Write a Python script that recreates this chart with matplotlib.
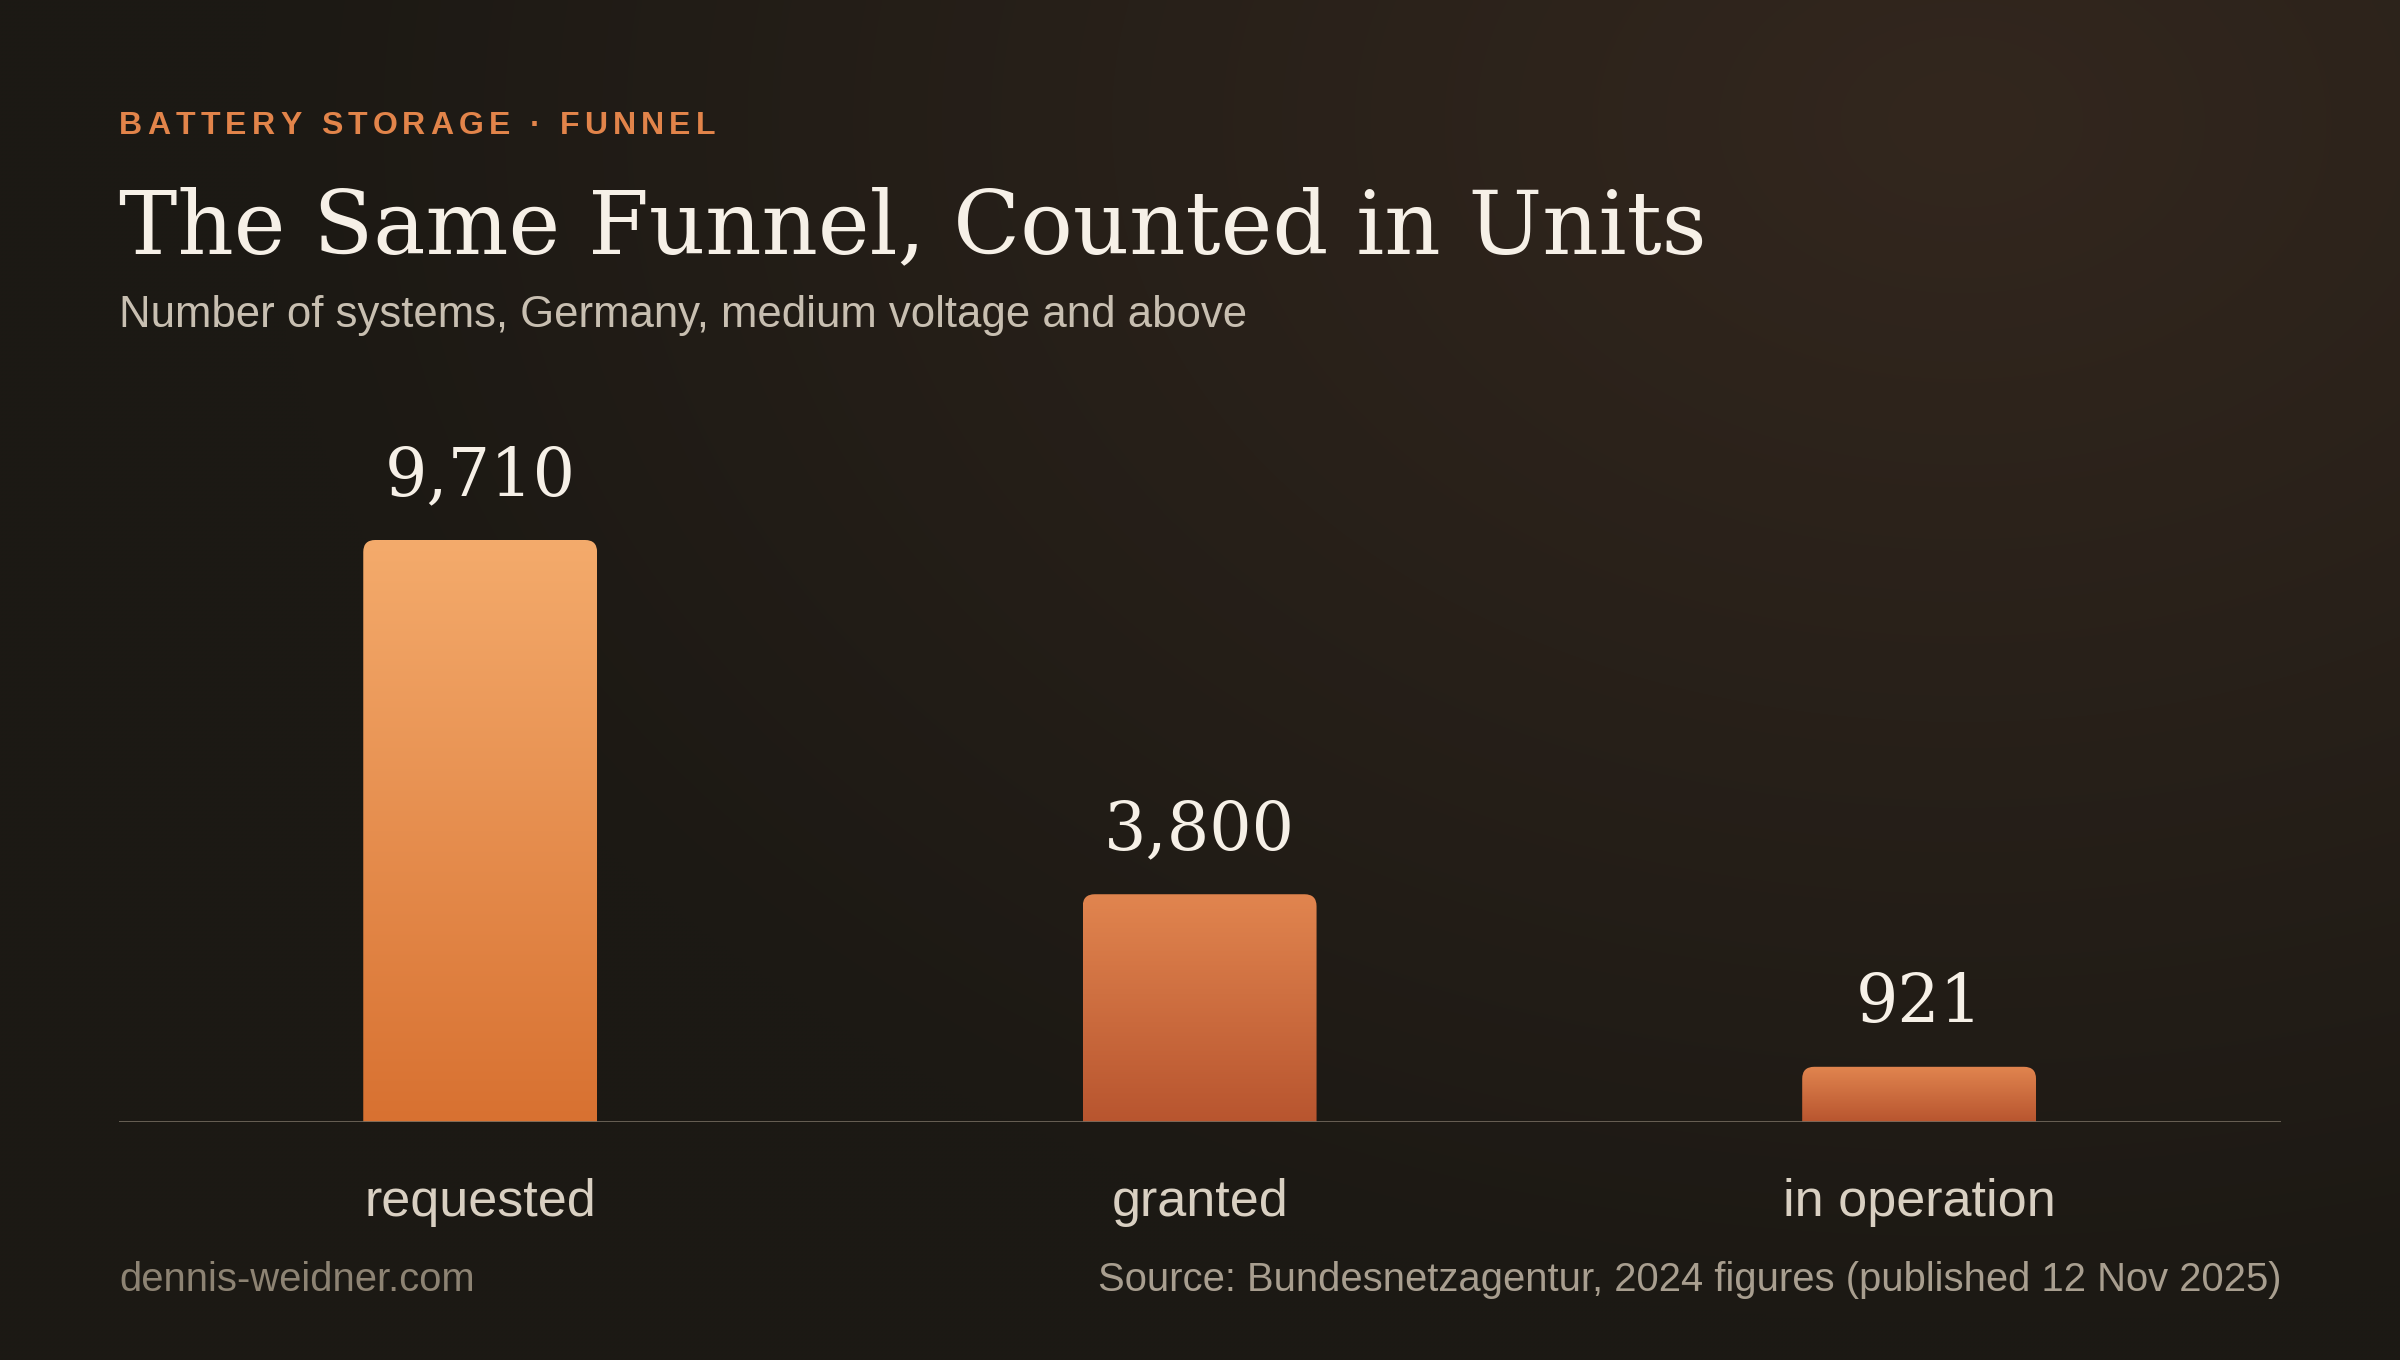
import matplotlib
matplotlib.use("Agg")
import matplotlib.pyplot as plt
import numpy as np
from matplotlib.path import Path
from matplotlib.patches import PathPatch
from matplotlib.colors import LinearSegmentedColormap

# donnees
categories = ["requested", "granted", "in operation"]
values = [9710, 3800, 921]
value_labels = ["9,710", "3,800", "921"]

kicker = "BATTERY STORAGE · FUNNEL"
title = "The Same Funnel, Counted in Units"
subtitle = "Number of systems, Germany, medium voltage and above"
footer_left = "dennis-weidner.com"
footer_right = "Source: Bundesnetzagentur, 2024 figures (published 12 Nov 2025)"

W, H = 2400, 1360
DPI = 100
fig = plt.figure(figsize=(W / DPI, H / DPI), dpi=DPI)

# fond : degrade radial chaud en haut a droite
bg = fig.add_axes([0, 0, 1, 1])
bg.set_axis_off()
yy, xx = np.mgrid[0:H:4, 0:W:4]
d = np.sqrt(((xx - 1960) / 1700.0) ** 2 + ((yy - 120) / 1200.0) ** 2)
t = np.clip(d, 0, 1)
c_glow = np.array([0x33, 0x27, 0x1e]) / 255
c_base = np.array([0x1c, 0x19, 0x14]) / 255
img = c_glow[None, None, :] * (1 - t[..., None]) + c_base[None, None, :] * t[..., None]
bg.imshow(img, extent=[0, W, H, 0], aspect="auto", interpolation="bilinear")
bg.set_xlim(0, W)
bg.set_ylim(H, 0)


def px(x, y):
    # coordonnees pixel (origine en haut a gauche) -> fraction de figure
    return x / W, 1 - y / H


# axe du graphique
x0, x1 = 119, 2281
y_base, y_top = 1122, 400
ax = fig.add_axes([x0 / W, 1 - y_base / H, (x1 - x0) / W, (y_base - y_top) / H])
ax.set_axis_off()
ymax = 9710 * (y_base - y_top) / 582.0
ax.set_xlim(-0.502, 2.503)
ax.set_ylim(0, ymax)

bar_w = 0.325
rad_px = 12
rx = rad_px * 3.005 / (x1 - x0)
ry = rad_px * ymax / (y_base - y_top)

grad_first = LinearSegmentedColormap.from_list("g1", ["#d87131", "#f4ab6c"])
grad_other = LinearSegmentedColormap.from_list("g2", ["#b8552f", "#e1854f"])

for i, v in enumerate(values):
    l, r = i - bar_w / 2, i + bar_w / 2
    verts = [(l, 0), (l, v - ry), (l, v), (l + rx, v), (r - rx, v), (r, v), (r, v - ry), (r, 0), (l, 0)]
    codes = [Path.MOVETO, Path.LINETO, Path.CURVE3, Path.CURVE3, Path.LINETO,
             Path.CURVE3, Path.CURVE3, Path.LINETO, Path.CLOSEPOLY]
    patch = PathPatch(Path(verts, codes), facecolor="none", edgecolor="none")
    ax.add_patch(patch)
    cmap = grad_first if i == 0 else grad_other
    grad = np.linspace(0, 1, 256).reshape(-1, 1)
    im = ax.imshow(grad, extent=[l, r, 0, v], origin="lower", cmap=cmap,
                   aspect="auto", zorder=2)
    im.set_clip_path(patch)
    ax.annotate(value_labels[i], (i, v), xytext=(0, 45 * 72 / DPI), textcoords="offset points",
                ha="center", va="baseline", fontsize=48, family="DejaVu Serif",
                color="#f6f0e7", zorder=4)
    ax.annotate(categories[i], (i, 0), xytext=(0, -(1216 - y_base) * 72 / DPI),
                textcoords="offset points", ha="center", va="baseline",
                fontsize=37.5, family="Liberation Sans", color="#d9d0c2")

ax.axhline(0, color="#736a5e", alpha=0.85, lw=3 * 72 / DPI, zorder=3)
ax.set_xlim(-0.502, 2.503)
ax.set_ylim(0, ymax)

# kicker avec espacement des lettres
renderer = fig.canvas.get_renderer()
cx = 119
for ch in kicker:
    tx = fig.text(*px(cx, 134), ch, fontsize=23, family="Liberation Sans",
                  weight="bold", color="#e2844a", va="baseline", ha="left")
    if ch == " ":
        wch = 23 * DPI / 72 * 0.278
    else:
        wch = tx.get_window_extent(renderer).width
    cx += wch + 5.2

fig.text(*px(119, 253), title, fontsize=63, family="DejaVu Serif", color="#f6f0e7",
         va="baseline", ha="left")
fig.text(*px(119, 327), subtitle, fontsize=31.5, family="Liberation Sans", color="#c8bfb1",
         va="baseline", ha="left")
fig.text(*px(119, 1291), footer_left, fontsize=28.8, family="Liberation Sans", color="#8d8373",
         va="baseline", ha="left")
fig.text(*px(2281, 1291), footer_right, fontsize=28.8, family="Liberation Sans", color="#a89e8f",
         va="baseline", ha="right")

fig.savefig("out.png", dpi=DPI, facecolor="#1c1914")
